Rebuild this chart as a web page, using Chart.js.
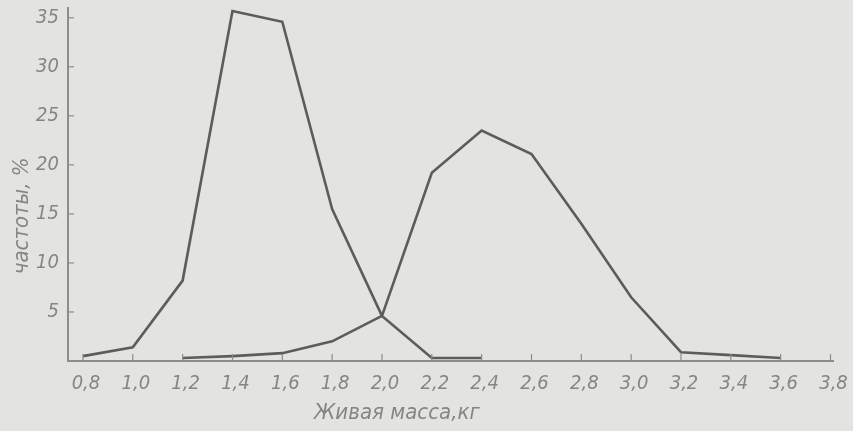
<!DOCTYPE html>
<html>
<head>
<meta charset="utf-8">
<script src="https://cdn.jsdelivr.net/npm/chart.js@4"></script>
<style>
  html, body { margin: 0; padding: 0; background: #e3e3e1; }
  #wrap { width: 853px; height: 431px; }
</style>
</head>
<body>
<div id="wrap"><canvas id="chart" width="853" height="431"></canvas></div>
<script>
// Живая масса, кг (x) и частоты, % (y)
const xTicks = [0.8, 1.0, 1.2, 1.4, 1.6, 1.8, 2.0, 2.2, 2.4, 2.6, 2.8, 3.0, 3.2, 3.4, 3.6, 3.8];
const yTicks = [5, 10, 15, 20, 25, 30, 35];

const massA = [0.8, 1.0, 1.2, 1.4, 1.6, 1.8, 2.0, 2.2, 2.4];
const freqA = [0.5, 1.4, 8.2, 35.7, 34.6, 15.5, 4.6, 0.3, 0.3];

const massB = [1.2, 1.4, 1.6, 1.8, 2.0, 2.2, 2.4, 2.6, 2.8, 3.0, 3.2, 3.4, 3.6];
const freqB = [0.3, 0.5, 0.8, 2.0, 4.6, 19.2, 23.5, 21.1, 14.0, 6.5, 0.9, 0.6, 0.3];

const xTitle = "Живая масса,кг";
const yTitle = "частоты, %";

const inkColor = "#5c5c5c";
const textColor = "#858585";
const fontFamily = "'Liberation Sans Narrow', 'DejaVu Sans Condensed', sans-serif";

const toPoints = (xs, ys) => xs.map((x, i) => ({ x: x, y: ys[i] }));

// korte streepjes naar binnen + beide astitels op hun plek
const axisExtras = {
    id: "axisExtras",
    afterDraw(chart) {
        const ctx = chart.ctx;
        const xs = chart.scales.x;
        const ys = chart.scales.y;
        const area = chart.chartArea;
        ctx.save();
        ctx.strokeStyle = "#8c8c8c";
        ctx.lineWidth = 1.2;
        xTicks.forEach(v => {
            const px = xs.getPixelForValue(v);
            ctx.beginPath();
            ctx.moveTo(px, area.bottom);
            ctx.lineTo(px, area.bottom - 7);
            ctx.stroke();
        });
        yTicks.forEach(v => {
            const py = ys.getPixelForValue(v);
            ctx.beginPath();
            ctx.moveTo(area.left, py);
            ctx.lineTo(area.left + 6, py);
            ctx.stroke();
        });
        ctx.fillStyle = textColor;
        ctx.font = "italic 22px " + fontFamily;
        ctx.textAlign = "center";
        ctx.textBaseline = "middle";
        ctx.fillText(xTitle, xs.getPixelForValue(2.06), 413);

        ctx.translate(22, ys.getPixelForValue(14.8));
        ctx.rotate(-Math.PI / 2);
        ctx.fillText(yTitle, 0, 0);
        ctx.restore();
    }
};

const ctx = document.getElementById("chart").getContext("2d");

new Chart(ctx, {
    type: "line",
    data: {
        datasets: [{
            data: toPoints(massA, freqA),
            borderColor: inkColor,
            borderWidth: 2.6,
            pointRadius: 0,
            tension: 0,
            fill: false
        }, {
            data: toPoints(massB, freqB),
            borderColor: inkColor,
            borderWidth: 2.6,
            pointRadius: 0,
            tension: 0,
            fill: false
        }]
    },
    options: {
        responsive: false,
        animation: false,
        layout: { padding: { left: 0, right: 20, top: 8, bottom: 0 } },
        plugins: {
            legend: { display: false },
            tooltip: { enabled: false }
        },
        scales: {
            x: {
                type: "linear",
                min: 0.74,
                max: 3.81,
                afterBuildTicks: scale => {
                    scale.ticks = xTicks.map(v => ({ value: v }));
                },
                afterFit: scale => {
                    scale.height = 70;
                    scale.paddingLeft = 0;
                    scale.paddingRight = 0;
                },
                grid: { display: false, drawTicks: false },
                border: { display: true, color: "#8c8c8c", width: 2 },
                ticks: {
                    padding: 11,
                    labelOffset: 3,
                    maxRotation: 0,
                    autoSkip: false,
                    color: textColor,
                    font: { family: fontFamily, size: 20, style: "italic" },
                    callback: v => v.toFixed(1).replace(".", ",")
                }
            },
            y: {
                min: 0,
                max: 36,
                afterBuildTicks: scale => {
                    scale.ticks = yTicks.map(v => ({ value: v }));
                },
                afterFit: scale => {
                    scale.width = 68;
                    scale.paddingTop = 0;
                    scale.paddingBottom = 0;
                },
                grid: { display: false, drawTicks: false },
                border: { display: true, color: "#8c8c8c", width: 2 },
                ticks: {
                    padding: 9,
                    color: textColor,
                    font: { family: fontFamily, size: 20, style: "italic" }
                }
            }
        }
    },
    plugins: [axisExtras]
});
</script>
</body>
</html>
